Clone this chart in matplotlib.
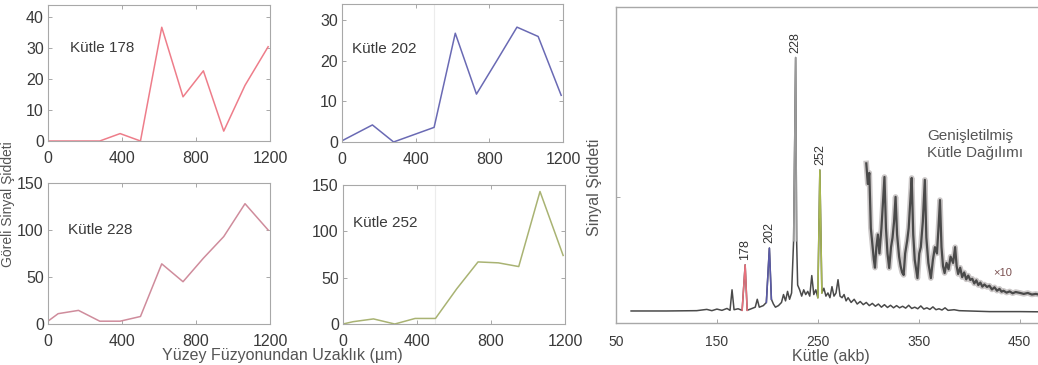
import matplotlib.pyplot as plt
import numpy as np
from matplotlib import rcParams

rcParams['font.family'] = ['Liberation Sans', 'DejaVu Sans']
rcParams['text.color'] = '#3a3a3a'
rcParams['xtick.color'] = '#9a9a9a'
rcParams['ytick.color'] = '#9a9a9a'
rcParams['xtick.labelcolor'] = '#3a3a3a'
rcParams['ytick.labelcolor'] = '#3a3a3a'

# distance from surface fusion (um)
distance = [0, 55, 165, 280, 390, 500, 615, 730, 840, 950, 1065, 1190]
mass178 = [0, 0, 0, 0, 2.4, 0, 36.8, 14.3, 22.7, 3.2, 18, 30.5]
mass202 = [0.3, 1.6, 4.2, 0, 1.8, 3.6, 26.8, 11.8, 20, 28.3, 26, 11.5]
mass228 = [3, 11, 14.5, 3, 3, 8, 64, 45, 70, 93, 128, 100]
mass252 = [0, 2.5, 5.5, 0, 6, 6, 38, 67, 66, 62, 143, 74]

panel_names = ["Kütle 178", "Kütle 202", "Kütle 228", "Kütle 252"]

# mass spectrum (main trace)
spec_mass = [65, 100, 130, 140, 145, 150, 155, 160, 163, 165, 167, 171, 175, 178, 180,
             184, 188, 190, 192, 196, 199, 202, 204, 206, 208, 211, 214, 216, 218, 220,
             222, 224, 226, 228, 229, 230, 232, 234, 236, 238, 240, 242, 244, 246, 248,
             250, 252, 254, 256, 258, 260, 262, 264, 266, 268, 270, 272, 274, 276, 278,
             280, 283, 286, 289, 292, 295, 298, 301, 304, 307, 310, 313, 316, 319, 322,
             325, 328, 331, 334, 337, 340, 343, 346, 349, 352, 355, 358, 361, 364, 367,
             370, 373, 376, 379, 385, 390, 400, 420, 450, 480]
spec_int = [3.8, 3.8, 3.9, 4.3, 3.9, 4.4, 4.0, 4.6, 4.0, 10.5, 4.2, 4.5, 4.0, 18.4, 4.0,
            4.5, 5.0, 7.5, 5.0, 5.5, 6.5, 23.7, 7.5, 6.0, 5.0, 5.5, 6.5, 9.0, 7.0, 10.0,
            7.5, 9.5, 26.0, 84.0, 26.0, 12.0, 10.5, 8.5, 10.5, 9.0, 10.0, 8.5, 15.0, 9.0, 10.5,
            8.0, 48.4, 9.5, 11.0, 8.5, 9.5, 8.0, 11.5, 8.5, 9.5, 13.7, 8.5, 8.0, 9.0, 7.0,
            8.0, 6.5, 7.5, 6.0, 6.8, 5.8, 6.5, 5.5, 6.2, 5.3, 6.0, 5.0, 5.8, 4.9, 5.6,
            4.8, 5.5, 4.8, 5.3, 4.7, 5.6, 4.6, 5.0, 4.5, 5.4, 4.4, 4.8, 4.3, 5.1, 4.2,
            4.5, 4.1, 4.8, 4.0, 4.2, 3.9, 3.8, 3.6, 3.6, 3.5]

# expanded (x10) trace
exp_mass = [298, 299.5, 301, 302.5, 304, 305.5, 306.6, 308, 309.5, 311, 313, 314.5, 316,
            317.5, 319, 320.7, 322.5, 324, 325.5, 327, 328.5, 330.5, 332, 333.5, 335,
            336.5, 338.5, 340, 341.5, 343, 344.5, 346, 348.7, 350.5, 352, 354, 356, 357.5,
            359.5, 362, 364, 366, 368, 369.5, 371, 372.5, 374, 375.6, 377.5, 379.5, 381.5,
            384, 386, 387.5, 389, 391, 393, 395, 397, 399, 401, 403, 405, 407, 409, 411,
            413, 415, 417.6, 420, 422.5, 425, 427.5, 430, 432, 434, 437, 440, 443, 446,
            450.5, 454, 458, 462, 466, 470, 476]
exp_int = [50.5, 44, 47.5, 30, 25, 20, 17.5, 24, 28, 22, 30, 38, 46.2,
           30, 22, 17.4, 24, 27, 32, 39.9, 28, 21, 18, 16, 15.2,
           22, 26, 30, 38, 45.9, 28, 20, 14.2, 22, 24, 32, 45.3, 27,
           19, 14.2, 20, 24, 22, 30, 38.9, 24, 18, 15.8, 19, 17, 21,
           19, 24, 18, 15.5, 17.5, 14.5, 16, 13.8, 15, 13.6, 14, 12.5, 13.5, 12, 12.8,
           11.5, 12.2, 11.4, 11.8, 10.6, 11.3, 10.2, 10.8, 9.9, 10.2, 9.6, 10, 9.4, 9.8,
           9.5, 9.2, 9.5, 9.0, 9.2, 8.9, 8.8]

peak_labels = [178, 202, 228, 252]
peak_colors = {178: '#e8707c', 202: '#5a5aa8', 228: '#9a9a9a', 252: '#a8b850'}

fig = plt.figure(figsize=(10.38, 3.65), dpi=100)

panels = [
    (mass178, '#ee7d8a', (0, 44), [0, 10, 20, 30, 40], [0.0462, 0.6137, 0.2139, 0.3726], (120, 30)),
    (mass202, '#6a6ab4', (0, 34), [0, 10, 20, 30], [0.3295, 0.611, 0.2129, 0.378], (55, 22.8)),
    (mass228, '#cf8c9c', (0, 150), [0, 50, 100, 150], [0.0462, 0.1123, 0.2139, 0.3863], (108, 100)),
    (mass252, '#a9b373', (0, 150), [0, 50, 100, 150], [0.3304, 0.1123, 0.2139, 0.3808], (55, 109)),
]

for i, (vals, col, ylim, yt, pos, tpos) in enumerate(panels):
    ax = fig.add_axes(pos)
    if i in (1, 3):
        ax.axvline(500, color='#ececec', lw=0.8, zorder=0)
    ax.plot(distance, vals, color=col, lw=1.1)
    ax.set_xlim(0, 1200)
    ax.set_ylim(*ylim)
    ax.set_xticks([0, 400, 800, 1200])
    ax.set_yticks(yt)
    ax.tick_params(direction='in', top=True, right=True, length=3, width=0.6,
                   labelsize=11.5)
    ax.tick_params(axis='x', pad=7)
    ax.tick_params(axis='y', pad=3)
    for s in ax.spines.values():
        s.set_color('#a8a8a8')
        s.set_linewidth(0.8)
    ax.text(tpos[0], tpos[1], panel_names[i], fontsize=11, va='center', ha='left')

fig.text(0.0075, 0.44, 'Göreli Sinyal Şiddeti', rotation=90, fontsize=10,
         ha='center', va='center', color='#555555')
fig.text(0.272, 0.027, 'Yüzey Füzyonundan Uzaklık (µm)', fontsize=11.5,
         ha='center', va='center', color='#555555')

# right: mass spectrum
ax = fig.add_axes([0.5934, 0.1151, 0.4133, 0.8658])
ax.plot(exp_mass, exp_int, color='#6a6060', lw=4.0, alpha=0.35)
ax.plot(exp_mass, exp_int, color='#4a4a4a', lw=1.6)
ax.plot(spec_mass, spec_int, color='#4a4a4a', lw=1.1)
for m in peak_labels:
    k = spec_mass.index(m)
    ax.plot(spec_mass[k - 1:k + 2], spec_int[k - 1:k + 2], color=peak_colors[m], lw=1.1)
    ax.text(m, spec_int[k] + 1.5, str(m), rotation=90, fontsize=9,
            ha='center', va='bottom', color='#333333')

ax.text(358, 56.5, 'Genişletilmiş\nKütle Dağılımı', fontsize=11, ha='left',
        va='center', linespacing=1.35, color='#555555')
ax.text(433, 15.8, '×10', fontsize=8, ha='center', va='center', color='#7a5050')

ax.set_xlim(50, 475)
ax.set_ylim(0, 100)
ax.set_xticks([50, 150, 250, 350, 450])
ax.set_yticks([40])
ax.set_yticklabels([])
ax.tick_params(direction='in', length=3, width=0.6, labelsize=10, pad=9)
for s in ax.spines.values():
    s.set_color('#a8a8a8')
    s.set_linewidth(1.0)
ax.set_xlabel('Kütle (akb)', fontsize=11.5, labelpad=0, color='#555555')
ax.set_ylabel('Sinyal Şiddeti', fontsize=11.5, color='#555555')
ax.yaxis.set_label_coords(-0.033, 0.43)

plt.savefig('out.png', dpi=100)
